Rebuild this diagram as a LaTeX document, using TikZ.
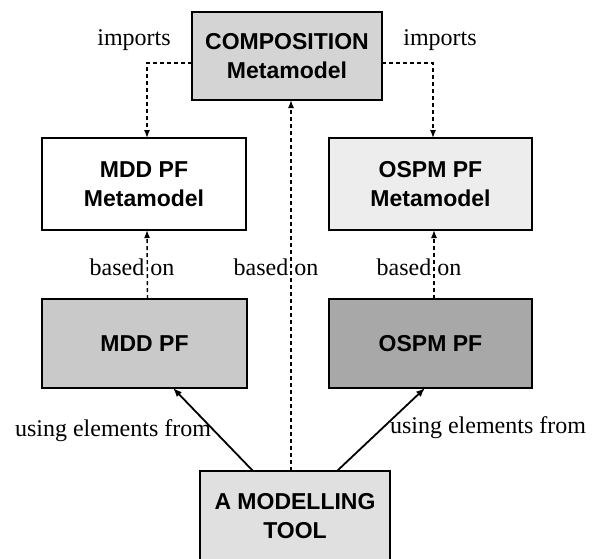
\documentclass[tikz,border=0pt]{standalone}
\usepackage{fontspec}
\setmainfont{Liberation Serif}
\newfontfamily\boxfont{Liberation Sans}
\usetikzlibrary{arrows.meta,calc}
\definecolor{compfill}{gray}{0.83}
\definecolor{ospmmfill}{gray}{0.93}
\definecolor{mddfill}{gray}{0.79}
\definecolor{ospmfill}{gray}{0.66}
\definecolor{toolfill}{gray}{0.88}
\tikzset{
  box/.style={draw=black, line width=1.5pt, outer sep=0pt, inner sep=0pt,
    align=center, font=\boxfont\bfseries\fontsize{23}{29}\selectfont},
  lbl/.style={font=\fontsize{24}{28}\selectfont, inner sep=0pt},
  dashline/.style={line width=1.4pt, dash pattern=on 4pt off 3pt,
    -{Latex[length=8pt,width=6pt]}},
  solidline/.style={line width=1.8pt, -{Latex[length=9pt,width=7pt]}}
}
\begin{document}
\begin{tikzpicture}[x=1pt,y=-1pt]
\useasboundingbox (0,0) rectangle (595,558);
\clip (0,0) rectangle (595,558);

% boxes
\node[box, fill=compfill, minimum width=190pt, minimum height=88pt] (comp) at (287,56) {COMPOSITION\\Metamodel};
\node[box, fill=white, minimum width=204pt, minimum height=92pt] (mddm) at (144,184) {MDD PF\\Metamodel};
\node[box, fill=ospmmfill, minimum width=203pt, minimum height=92pt] (ospmm) at (430.5,184) {OSPM PF\\Metamodel};
\node[box, fill=mddfill, minimum width=205pt, minimum height=89pt] (mdd) at (144.5,343.5) {MDD PF};
\node[box, fill=ospmfill, minimum width=203pt, minimum height=89pt] (ospm) at (430.5,343.5) {OSPM PF};
\node[box, fill=toolfill, minimum width=190pt, minimum height=90pt, anchor=north] (tool) at (295,471) {A MODELLING\\TOOL};

% imports
\coordinate (cl) at ($(comp.west)+(0,7)$);
\coordinate (cr) at ($(comp.east)+(0,7)$);
\draw[dashline] (cl) -| ([xshift=3pt]mddm.north);
\draw[dashline] (cr) -| ([xshift=2.5pt]ospmm.north);
\node[lbl] (impl) at (134,40) {imports};
\node[lbl] (impr) at (440,40) {imports};

% based on
\draw[dashline] ([xshift=3pt]mdd.north) -- ([xshift=3pt]mddm.south);
\draw[dashline] ([xshift=3.5pt]ospm.north) -- ([xshift=3.5pt]ospmm.south);
\coordinate (midx) at (291,0);
\draw[dashline] (tool.north -| midx) -- (comp.south -| midx);
\node[lbl] (bl) at (132,267) {based on};
\node[lbl] (bm) at (276,267) {based on};
\node[lbl] (br) at (419,267) {based on};

% using elements from
\draw[solidline] ([xshift=-42pt]tool.north) -- ([xshift=28.5pt]mdd.south);
\draw[solidline] ([xshift=42pt]tool.north) -- ([xshift=-5.5pt]ospm.south);
\node[lbl] (ul) at (113,431) {using elements from};
\node[lbl] (ur) at (488,428) {using elements from};
\end{tikzpicture}
\end{document}
